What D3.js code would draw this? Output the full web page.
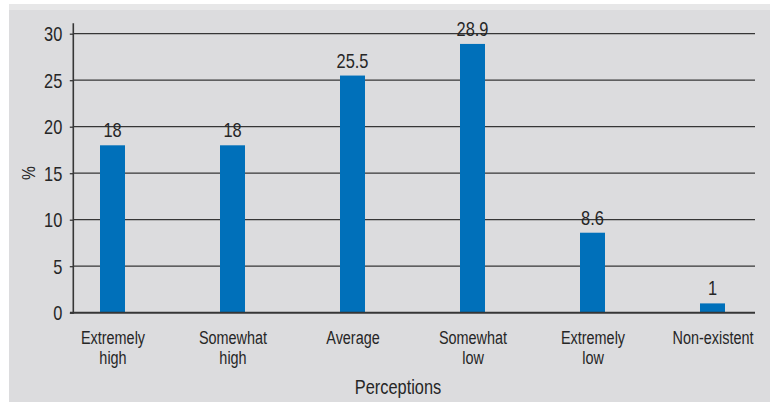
<!DOCTYPE html>
<html>
<head>
<meta charset="utf-8">
<script src="https://cdn.jsdelivr.net/npm/d3@7"></script>
<style>
  html, body { margin: 0; padding: 0; background: #ffffff; }
  svg { display: block; }
  text { font-family: "Liberation Sans", Arial, sans-serif; fill: #262626; }
</style>
</head>
<body>
<svg id="chart" width="770" height="403"></svg>
<script>
// ---- data ----
const categories = ["Extremely high", "Somewhat high", "Average", "Somewhat low", "Extremely low", "Non-existent"];
const categoryLines = [["Extremely", "high"], ["Somewhat", "high"], ["Average"], ["Somewhat", "low"], ["Extremely", "low"], ["Non-existent"]];
const values = [18, 18, 25.5, 28.9, 8.6, 1];
const valueLabels = ["18", "18", "25.5", "28.9", "8.6", "1"];
const yTicks = [0, 5, 10, 15, 20, 25, 30];
const xTitle = "Perceptions";
const yTitle = "%";

// ---- layout ----
const svg = d3.select("#chart");
const W = 770, H = 403;
const axisX = 73.3, plotRight = 755, y0 = 312.7, yTop = 33.7;
const barColor = "#0070ba";
const lineColor = "#363636";
const NARROW = 0.82; // horizontal compression to mimic a condensed face
const FONT = '"Liberation Sans", Arial, sans-serif';

// helper: place a condensed text at (px,py)
function narrowText(sel, px, py) {
  sel.attr("x", 0).attr("y", 0).attr("transform", `translate(${px},${py}) scale(${NARROW},1)`);
}

// background panel
svg.append("rect").attr("x", 9).attr("y", 4).attr("width", W - 9).attr("height", 6).attr("fill", "#e7e7e8");
svg.append("rect").attr("x", 9).attr("y", 10).attr("width", W - 9).attr("height", 392).attr("fill", "#dcdcde");

const y = d3.scaleLinear().domain([0, 30]).range([y0, yTop]);
const x = d3.scalePoint().domain(categories).range([112.5, 712.5]);
const barW = 25;

// gridlines
svg.append("g").selectAll("line").data(yTicks.filter(d => d > 0)).join("line")
  .attr("x1", axisX).attr("x2", plotRight)
  .attr("y1", d => y(d)).attr("y2", d => y(d))
  .attr("stroke", lineColor).attr("stroke-width", 1.3);

// y axis (ticks + labels)
const yAxis = d3.axisLeft(y).tickValues(yTicks).tickSize(3.5).tickPadding(7).tickFormat(d3.format("d"));
const gy = svg.append("g").attr("transform", `translate(${axisX},0)`).call(yAxis);
gy.select(".domain").remove();
gy.selectAll(".tick line").attr("stroke", lineColor).attr("stroke-width", 1.3);
gy.selectAll(".tick text")
  .attr("font-size", 20).attr("fill", "#262626").style("font-family", FONT)
  .attr("dy", null).attr("dominant-baseline", null)
  .each(function() { narrowText(d3.select(this), -11, 7); });

// bars
svg.append("g").selectAll("rect").data(values).join("rect")
  .attr("x", (d, i) => x(categories[i]) - barW / 2)
  .attr("width", barW)
  .attr("y", d => y(d))
  .attr("height", d => y0 - y(d))
  .attr("fill", barColor);

// value labels
svg.append("g").selectAll("text").data(values).join("text")
  .attr("text-anchor", "middle")
  .attr("font-size", 20)
  .text((d, i) => valueLabels[i])
  .each(function(d, i) { narrowText(d3.select(this), x(categories[i]), y(d) - 8); });

// y axis line
svg.append("line").attr("x1", axisX).attr("x2", axisX).attr("y1", 23.3).attr("y2", y0 + 1)
  .attr("stroke", lineColor).attr("stroke-width", 1.6);
// x axis line
svg.append("line").attr("x1", 70).attr("x2", plotRight).attr("y1", y0).attr("y2", y0)
  .attr("stroke", lineColor).attr("stroke-width", 2);

// x axis category labels
const xAxis = d3.axisBottom(x).tickSize(0).tickFormat("");
const gx = svg.append("g").attr("transform", `translate(0,${y0})`).call(xAxis);
gx.select(".domain").remove();
gx.selectAll(".tick").each(function(d, i) {
  const t = d3.select(this).append("text")
    .attr("text-anchor", "middle")
    .attr("font-size", 17.6)
    .attr("fill", "#262626")
    .style("font-family", FONT)
    .attr("transform", `scale(${NARROW},1)`);
  categoryLines[i].forEach((ln, k) => {
    t.append("tspan").attr("x", 0).attr("y", 31 + k * 20.5).text(ln);
  });
});

// axis titles
svg.append("text").attr("text-anchor", "middle").attr("font-size", 20).text(xTitle)
  .call(s => narrowText(s, 398, 394));
svg.append("text").attr("text-anchor", "middle").attr("font-size", 19).text(yTitle)
  .attr("x", 0).attr("y", 0)
  .attr("transform", `translate(35,173) rotate(-90) scale(${NARROW},1)`);
</script>
</body>
</html>
